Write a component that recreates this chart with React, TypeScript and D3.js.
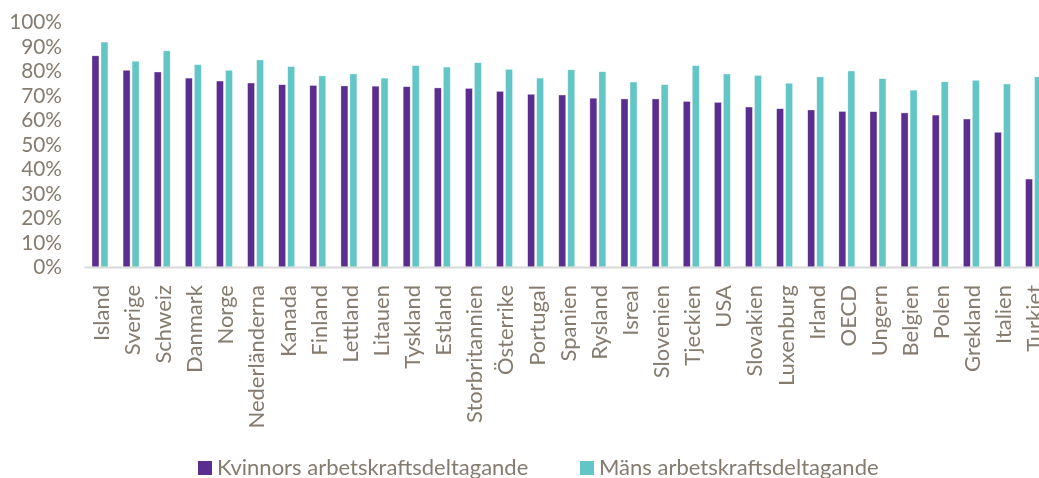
import * as d3 from "d3";

const categories = [
  "Island", "Sverige", "Schweiz", "Danmark", "Norge", "Nederländerna", "Kanada",
  "Finland", "Lettland", "Litauen", "Tyskland", "Estland", "Storbritannien",
  "Österrike", "Portugal", "Spanien", "Rysland", "Isreal", "Slovenien", "Tjeckien",
  "USA", "Slovakien", "Luxenburg", "Irland", "OECD", "Ungern", "Belgien", "Polen",
  "Grekland", "Italien", "Turkiet",
];

const women = [
  86.2, 80.3, 79.6, 77.1, 75.9, 75.1, 74.4, 74.1, 73.9, 73.8, 73.6, 73.1, 72.9,
  71.7, 70.5, 70.2, 68.9, 68.6, 68.6, 67.6, 67.2, 65.3, 64.6, 64.1, 63.5, 63.4,
  62.9, 62.0, 60.4, 55.0, 35.9,
];

const men = [
  91.8, 84.0, 88.2, 82.6, 80.3, 84.5, 81.8, 78.0, 78.8, 77.1, 82.2, 81.6, 83.4,
  80.7, 77.1, 80.5, 79.7, 75.5, 74.4, 82.2, 78.8, 78.2, 75.0, 77.6, 80.0, 76.9,
  72.2, 75.6, 76.2, 74.7, 77.6,
];

const seriesNames = ["Kvinnors arbetskraftsdeltagande", "Mäns arbetskraftsdeltagande"];
const yTicks = [0, 10, 20, 30, 40, 50, 60, 70, 80, 90, 100];

const colors = ["#5B2D8E", "#62C6C6"];
const textColor = "#857B6F";
const font = "Lato, 'Open Sans', sans-serif";

const App = () => {
  const width = 1039;
  const height = 478;
  const step = 31.12;
  const left = 84.4;
  const y0 = 267;
  const yTop = 22;

  const x0 = d3
    .scaleBand()
    .domain(categories)
    .range([left, left + categories.length * step]);

  const groupW = 16;
  const x1 = d3
    .scaleBand()
    .domain(seriesNames)
    .range([0, groupW])
    .paddingInner(2 / 9);

  const y = d3.scaleLinear().domain([0, 100]).range([y0, yTop]);

  const values = [women, men];

  return (
    <div style={{ position: "fixed", left: 0, top: 0 }}>
      <svg width={width} height={height} style={{ display: "block", overflow: "hidden" }}>
        {yTicks.map((t) => (
          <text
            key={t}
            x={62}
            y={y(t)}
            dy="0.36em"
            textAnchor="end"
            fill={textColor}
            fontFamily={font}
            fontSize={20.8}
          >
            {t}%
          </text>
        ))}

        {categories.map((c, i) => {
          const gx = x0(c) + (x0.bandwidth() - groupW) / 2;
          return (
            <g key={c} transform={`translate(${gx},0)`}>
              {seriesNames.map((s, j) => (
                <rect
                  key={s}
                  x={x1(s)}
                  y={y(values[j][i])}
                  width={x1.bandwidth()}
                  height={y0 - y(values[j][i])}
                  fill={colors[j]}
                  stroke="#ffffff"
                  strokeOpacity={0.6}
                  strokeWidth={0.6}
                />
              ))}
            </g>
          );
        })}

        <line x1={left} x2={width} y1={y0 + 0.5} y2={y0 + 0.5} stroke="#D9D9D9" strokeWidth={2} />

        {categories.map((c) => {
          const cx = x0(c) + x0.bandwidth() / 2 + 1;
          return (
            <text
              key={c}
              transform={`translate(${cx},285) rotate(-90)`}
              textAnchor="end"
              dy="0.36em"
              fill={textColor}
              fontFamily={font}
              fontSize={22}
            >
              {c}
            </text>
          );
        })}

        <g>
          <rect x={198} y={461} width={14} height={14} fill={colors[0]} />
          <text x={217} y={475} fill={textColor} fontFamily={font} fontSize={22}>
            {seriesNames[0]}
          </text>
          <rect x={580} y={461} width={14} height={14} fill={colors[1]} />
          <text x={599} y={475} fill={textColor} fontFamily={font} fontSize={22}>
            {seriesNames[1]}
          </text>
        </g>
      </svg>
    </div>
  );
};

export default App;
